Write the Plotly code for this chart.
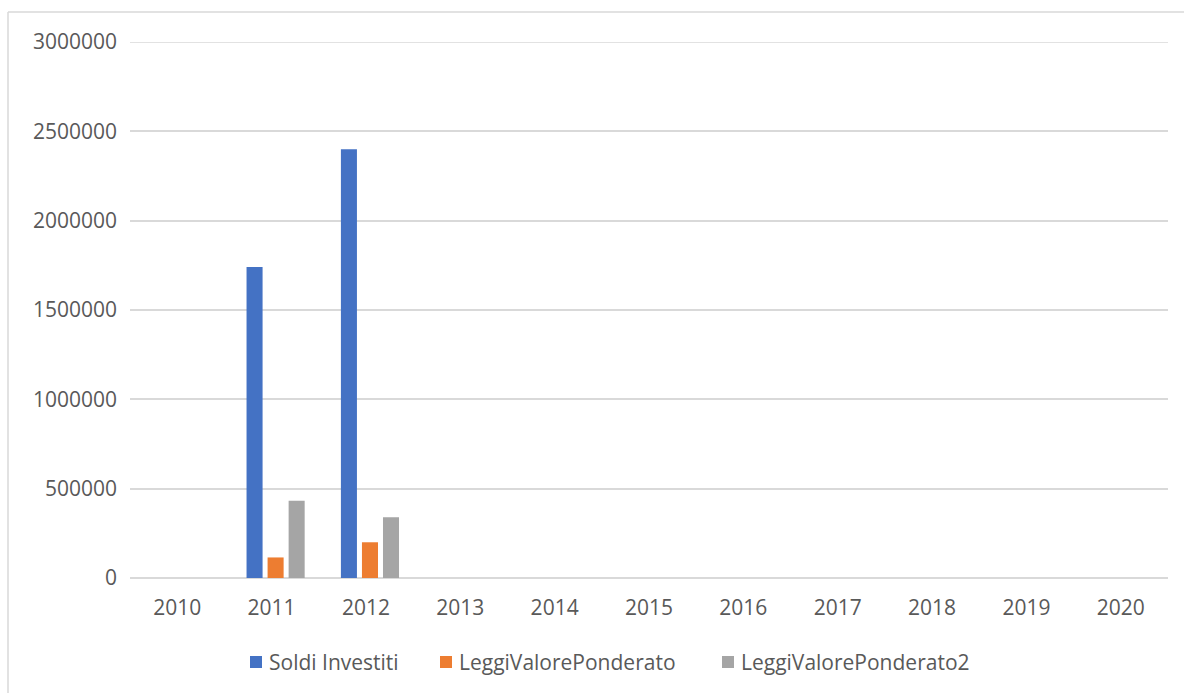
import plotly.graph_objects as go

# Anni e valori delle tre serie
anni = ["2010", "2011", "2012", "2013", "2014", "2015", "2016", "2017", "2018", "2019", "2020"]
soldi_investiti = [None, 1740000, 2400000, None, None, None, None, None, None, None, None]
leggi_valore_ponderato = [None, 115000, 200000, None, None, None, None, None, None, None, None]
leggi_valore_ponderato2 = [None, 433000, 340000, None, None, None, None, None, None, None, None]

nomi_serie = ["Soldi Investiti", "LeggiValorePonderato", "LeggiValorePonderato2"]
colori = ["#4472C4", "#ED7D31", "#A5A5A5"]

W, H = 1184, 693
M_L, M_R, M_T, M_B = 130, 16, 42, 115
PLOT_W = W - M_L - M_R
PLOT_H = H - M_T - M_B


def px_to_paper_x(px):
    return (px - M_L) / PLOT_W


def px_to_paper_y(py):
    return (H - M_B - py) / PLOT_H


font_testo = dict(family="Open Sans", size=21, color="#595959")

# Larghezza delle barre e spostamento di ciascuna serie (in unità di categoria)
larghezza_barra = 0.17
spostamenti = [-0.265, -0.042, 0.181]

fig = go.Figure()
for nome, valori, colore, spost in zip(nomi_serie,
                                       [soldi_investiti, leggi_valore_ponderato, leggi_valore_ponderato2],
                                       colori, spostamenti):
    fig.add_trace(go.Bar(x=anni, y=valori, name=nome, showlegend=False,
                         width=larghezza_barra, offset=spost,
                         marker=dict(color=colore, line=dict(width=0))))

fig.update_layout(
    width=W, height=H,
    margin=dict(l=M_L, r=M_R, t=M_T, b=M_B),
    paper_bgcolor="white", plot_bgcolor="white",
    barmode="overlay",
    font=font_testo,
    showlegend=False,
    xaxis=dict(type="category", showgrid=False, zeroline=False, showline=False,
               ticks="", tickfont=font_testo, ticklabelstandoff=15),
    yaxis=dict(range=[0, 3000000], dtick=500000, tickformat="d",
               showgrid=True, gridcolor="#D9D9D9", gridwidth=1.5,
               zeroline=True, zerolinecolor="#D9D9D9", zerolinewidth=1.5,
               showline=False, ticks="", tickfont=font_testo, ticklabelstandoff=12),
)

# Linea della griglia al valore massimo dell'asse
fig.add_shape(type="line", xref="paper", yref="y", x0=0, x1=1, y0=3000000, y1=3000000,
              line=dict(color="#D9D9D9", width=1.5))

# Legenda in basso: quadratino colorato e nome della serie
inizio_voci = [250, 440, 722]
y_legenda = 662
for nome, colore, x0 in zip(nomi_serie, colori, inizio_voci):
    fig.add_shape(type="rect", xref="paper", yref="paper",
                  x0=px_to_paper_x(x0), x1=px_to_paper_x(x0 + 12),
                  y0=px_to_paper_y(y_legenda - 6), y1=px_to_paper_y(y_legenda + 6),
                  fillcolor=colore, line=dict(width=0))
    fig.add_annotation(xref="paper", yref="paper", x=px_to_paper_x(x0 + 17),
                       y=px_to_paper_y(y_legenda), text=nome, showarrow=False,
                       xanchor="left", yanchor="middle", font=font_testo)

# Cornice del grafico (bordo sinistro e superiore)
fig.add_shape(type="line", xref="paper", yref="paper",
              x0=px_to_paper_x(8), x1=px_to_paper_x(8), y0=px_to_paper_y(12), y1=px_to_paper_y(700),
              line=dict(color="#D9D9D9", width=1.5))
fig.add_shape(type="line", xref="paper", yref="paper",
              x0=px_to_paper_x(8), x1=px_to_paper_x(1190), y0=px_to_paper_y(12), y1=px_to_paper_y(12),
              line=dict(color="#D9D9D9", width=1.5))

fig.write_html("out.html")
